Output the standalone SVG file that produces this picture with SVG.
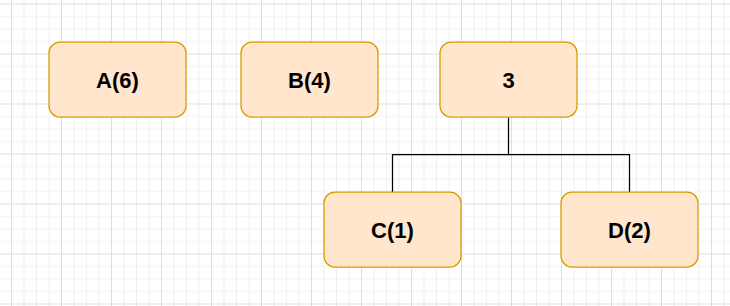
<svg xmlns="http://www.w3.org/2000/svg" width="730" height="306" viewBox="0 0 730 306">
  <style>
    .node rect { fill: #ffe6cc; stroke: #d79b00; stroke-width: 1.25; }
    .node text { font-family: "Liberation Sans", Arial, Helvetica, sans-serif; font-size: 22px; font-weight: bold; fill: #000; text-anchor: middle; }
    .edge { fill: none; stroke: #000; stroke-width: 1.25; }
  </style>
  <defs>
    <pattern id="grid" patternUnits="userSpaceOnUse" x="11" y="3.5" width="50" height="50">
      <rect x="12.5" y="0" width="1" height="50" fill="#f0f0f0"/>
      <rect x="25" y="0" width="1" height="50" fill="#f0f0f0"/>
      <rect x="37.5" y="0" width="1" height="50" fill="#f0f0f0"/>
      <rect x="0" y="12.5" width="50" height="1" fill="#f0f0f0"/>
      <rect x="0" y="25" width="50" height="1" fill="#f0f0f0"/>
      <rect x="0" y="37.5" width="50" height="1" fill="#f0f0f0"/>
      <rect x="0" y="0" width="1" height="50" fill="#dedede"/>
      <rect x="0" y="0" width="50" height="1" fill="#dedede"/>
    </pattern>
  </defs>
  <rect x="0" y="0" width="730" height="306" fill="#ffffff"/>
  <rect x="0" y="0" width="730" height="306" fill="url(#grid)"/>

  <g id="connectors">
    <path class="edge" d="M508.5 117.5 V154.5 H392.5 V192"/>
    <path class="edge" d="M508.5 154.5 H629.5 V192"/>
  </g>

  <g id="node-A" class="node">
    <rect x="49" y="42" width="137" height="75" rx="11" ry="11"/>
    <text x="117.5" y="87.5">A(6)</text>
  </g>
  <g id="node-B" class="node">
    <rect x="241" y="42" width="137" height="75" rx="11" ry="11"/>
    <text x="309.5" y="87.5">B(4)</text>
  </g>
  <g id="node-3" class="node">
    <rect x="440" y="42" width="137" height="75" rx="11" ry="11"/>
    <text x="508.5" y="87.5">3</text>
  </g>
  <g id="node-C" class="node">
    <rect x="324" y="192" width="137" height="75" rx="11" ry="11"/>
    <text x="392.5" y="237.5">C(1)</text>
  </g>
  <g id="node-D" class="node">
    <rect x="561" y="192" width="137" height="75" rx="11" ry="11"/>
    <text x="629.5" y="237.5">D(2)</text>
  </g>
</svg>
